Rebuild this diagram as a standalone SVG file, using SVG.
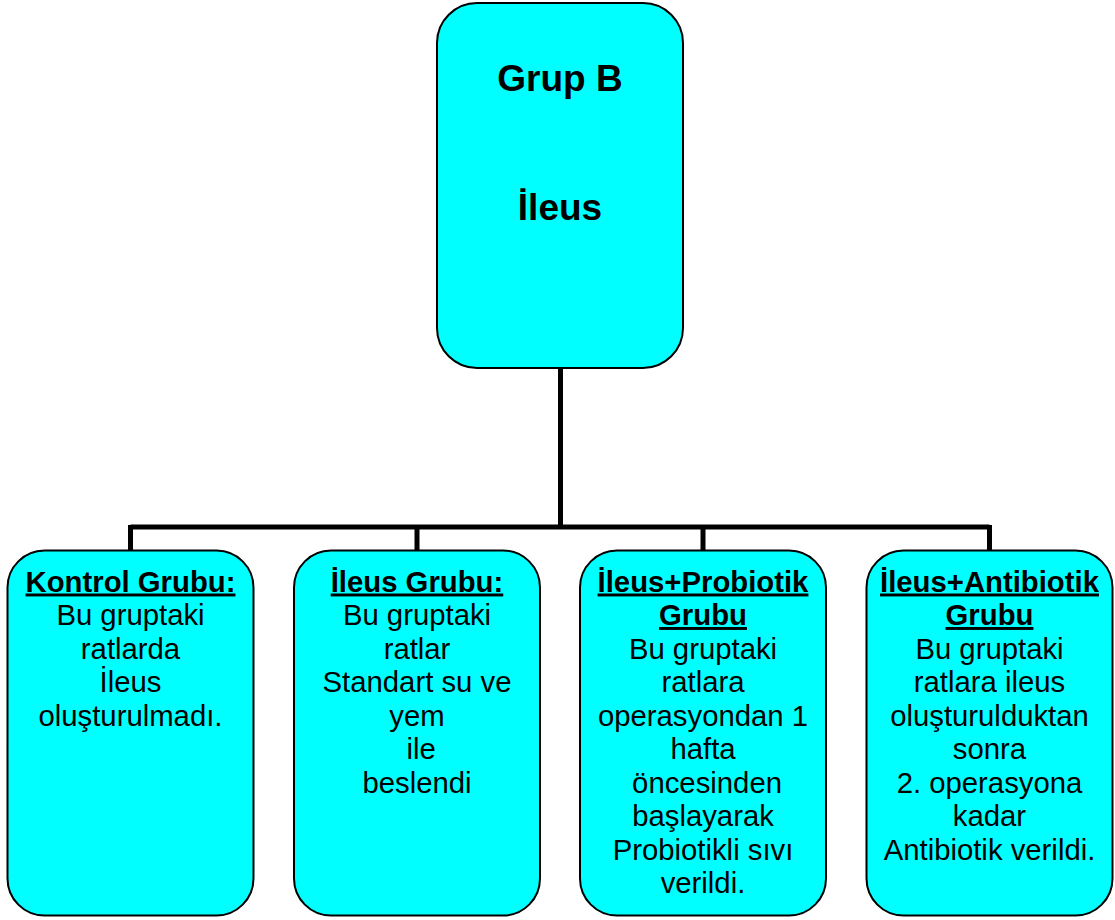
<svg xmlns="http://www.w3.org/2000/svg" width="1115" height="920" viewBox="0 0 1115 920">
<style>
.box{fill:#00FFFF;stroke:#000;stroke-width:2}
.conn{fill:none;stroke:#000;stroke-width:5}
text{fill:#000;text-anchor:middle;white-space:pre}
.t{font-size:37px;font-weight:bold}
.b{font-size:29.3px}
.h{font-weight:bold;text-decoration:underline}
</style>
<rect width="1115" height="920" fill="#fff"/>
<g id="connectors">
<path class="conn" d="M560.5 368V527M130.5 527H989.5M130.5 525V551M417 525V551M703 525V551M989.5 525V551"/>
</g>
<g id="top" font-family="'Liberation Sans', Arial, Helvetica, sans-serif">
<rect class="box" x="437" y="3" width="246" height="365" rx="40"/>
<text class="t" x="560" y="91">Grup B</text>
<text class="t" x="560" y="220">İleus</text>
</g>
<g id="kontrol" font-family="'Liberation Sans', Arial, Helvetica, sans-serif">
<rect class="box" x="7.5" y="550.5" width="246" height="365" rx="37"/>
<text class="b" x="130.5"><tspan class="h" x="130.5" y="591.5">Kontrol Grubu:</tspan><tspan x="130.5" y="625">Bu gruptaki</tspan><tspan x="130.5" y="658.5">ratlarda</tspan><tspan x="130.5" y="692">İleus</tspan><tspan x="130.5" y="725.5">oluşturulmadı.</tspan></text>
</g>
<g id="ileus" font-family="'Liberation Sans', Arial, Helvetica, sans-serif">
<rect class="box" x="294" y="550.5" width="246" height="365" rx="37"/>
<text class="b" x="417"><tspan class="h" x="417" y="591.5">İleus Grubu:</tspan><tspan x="417" y="625">Bu gruptaki</tspan><tspan x="417" y="658.5">ratlar</tspan><tspan x="417" y="692">Standart su ve</tspan><tspan x="417" y="725.5">yem</tspan><tspan x="417" y="759"> ile</tspan><tspan x="417" y="792.5">beslendi</tspan></text>
</g>
<g id="probiotik" font-family="'Liberation Sans', Arial, Helvetica, sans-serif">
<rect class="box" x="580" y="550.5" width="246" height="365" rx="37"/>
<text class="b" x="703"><tspan class="h" x="703" y="591.5">İleus+Probiotik</tspan><tspan class="h" x="703" y="625">Grubu</tspan><tspan x="703" y="658.5">Bu gruptaki</tspan><tspan x="703" y="692">ratlara</tspan><tspan x="703" y="725.5">operasyondan 1</tspan><tspan x="703" y="759">hafta</tspan><tspan x="703" y="792.5"> öncesinden</tspan><tspan x="703" y="826">başlayarak</tspan><tspan x="703" y="859.5">Probiotikli sıvı</tspan><tspan x="703" y="893">verildi.</tspan></text>
</g>
<g id="antibiotik" font-family="'Liberation Sans', Arial, Helvetica, sans-serif">
<rect class="box" x="866.5" y="550.5" width="246" height="365" rx="37"/>
<text class="b" x="989.5"><tspan class="h" x="989.5" y="591.5">İleus+Antibiotik</tspan><tspan class="h" x="989.5" y="625">Grubu</tspan><tspan x="989.5" y="658.5">Bu gruptaki</tspan><tspan x="989.5" y="692">ratlara ileus</tspan><tspan x="989.5" y="725.5">oluşturulduktan</tspan><tspan x="989.5" y="759">sonra</tspan><tspan x="989.5" y="792.5">2. operasyona</tspan><tspan x="989.5" y="826">kadar</tspan><tspan x="989.5" y="859.5">Antibiotik verildi.</tspan></text>
</g>
</svg>
